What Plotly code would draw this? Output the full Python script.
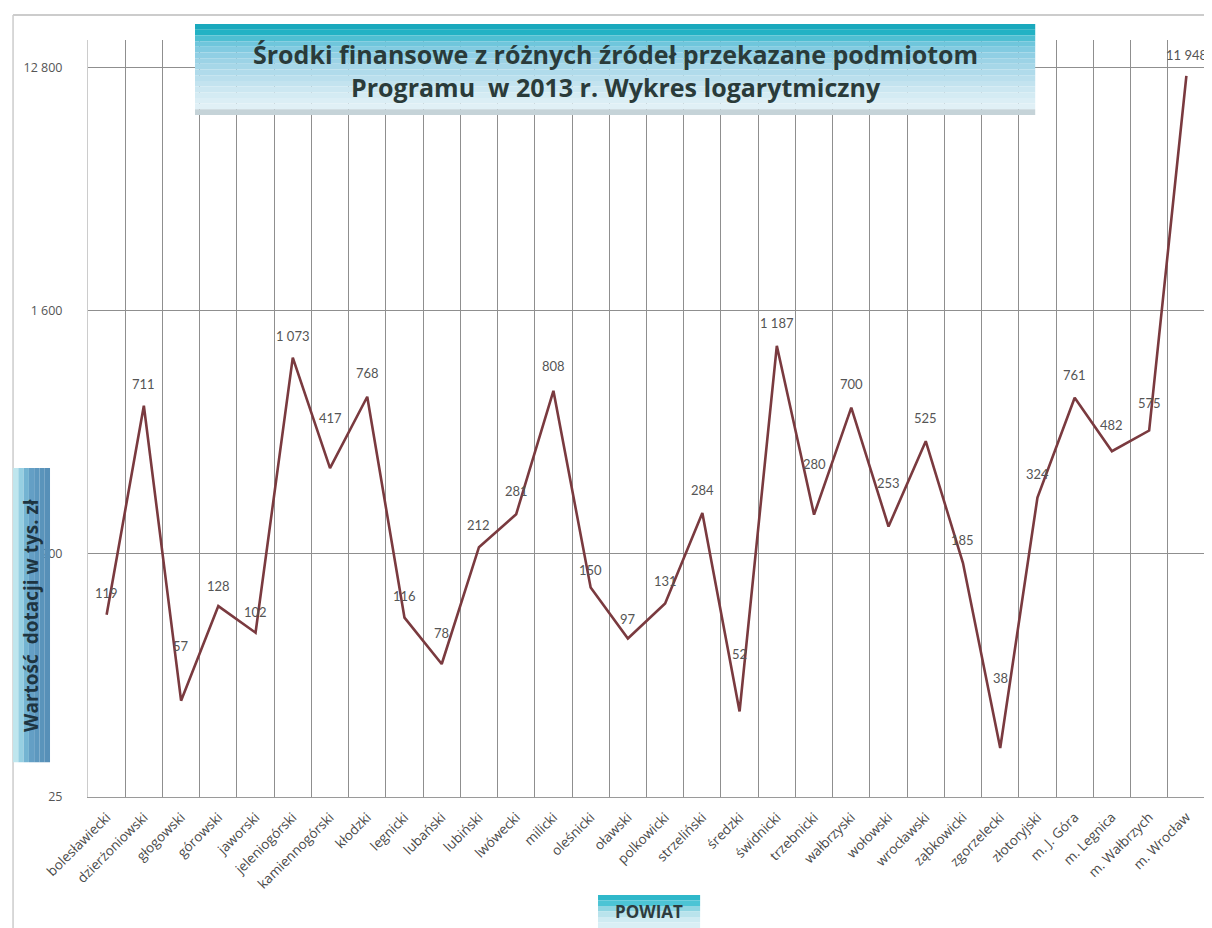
import math
import plotly.graph_objects as go

categories = ["bolesławiecki", "dzierżoniowski", "głogowski", "górowski", "jaworski",
              "jeleniogórski", "kamiennogórski", "kłodzki", "legnicki", "lubański",
              "lubiński", "lwówecki", "milicki", "oleśnicki", "oławski",
              "polkowicki", "strzeliński", "średzki", "świdnicki", "trzebnicki",
              "wałbrzyski", "wołowski", "wrocławski", "ząbkowicki", "zgorzelecki",
              "złotoryjski", "m. J. Góra", "m. Legnica", "m. Wałbrzych", "m. Wrocław"]
values = [119, 711, 57, 128, 102, 1073, 417, 768, 116, 78,
          212, 281, 808, 150, 97, 131, 284, 52, 1187, 280,
          700, 253, 525, 185, 38, 324, 761, 482, 575, 11948]
y_tickvals = [25, 200, 1600, 12800]
y_ticktext = ["25", "200", "1 600", "12 800"]

# label placement (pixels above each point), styling only
label_yshift = [22, 22, 55, 20, 21, 22, 50, 24, 22, 31,
                22, 23, 25, 18, 20, 22, 23, 57, 23, 51,
                24, 44, 23, 23, 70, 24, 23, 26, 28, 21]


def fmt(v):
    return f"{v:,}".replace(",", " ")


fig = go.Figure()
fig.add_trace(go.Scatter(
    x=categories, y=values, mode="lines",
    line=dict(color="#7a3a3f", width=2.6),
    hoverinfo="x+y", showlegend=False,
))

for c, v, dy in zip(categories, values, label_yshift):
    fig.add_annotation(x=c, y=math.log10(v), text=fmt(v), showarrow=False,
                       yshift=dy, xanchor="center", yanchor="middle",
                       font=dict(family="Lato", size=13, color="#555555"))

fig.update_layout(
    width=1204, height=920,
    margin=dict(l=80, r=7, t=32, b=131),
    paper_bgcolor="white", plot_bgcolor="white",
    template="none",
    font=dict(family="Open Sans", color="#444444"),
)
fig.update_xaxes(
    type="category", tickson="boundaries", tickangle=-45,
    range=[-0.5, len(categories) - 0.5],
    showgrid=True, gridcolor="#8f8f8f", gridwidth=1,
    showline=True, linecolor="#9a9a9a", linewidth=1,
    ticks="", ticklabelstandoff=6,
    tickfont=dict(family="Open Sans", size=13.5, color="#4a4a4a"),
    automargin=False, zeroline=False,
)
fig.update_yaxes(
    type="log", range=[1.3979, 4.211],
    tickvals=y_tickvals, ticktext=y_ticktext,
    showgrid=True, gridcolor="#8f8f8f", gridwidth=1,
    showline=True, linecolor="#cccccc", linewidth=1,
    ticks="", ticklabelstandoff=22,
    tickfont=dict(family="Open Sans", size=12.5, color="#555555"),
    automargin=False, zeroline=False,
)

shapes = []
# outer frame
shapes.append(dict(type="line", xref="paper", yref="paper", x0=-0.0671, x1=1.01, y0=1.033, y1=1.033,
                   line=dict(color="#bbbbbb", width=1.5)))
shapes.append(dict(type="line", xref="paper", yref="paper", x0=-0.0671, x1=-0.0671, y0=-0.2, y1=1.033,
                   line=dict(color="#cccccc", width=1.5)))


def gradient_box(x0, x1, y0, y1, colors, vertical=True):
    n = len(colors)
    out = []
    for i, c in enumerate(colors):
        if vertical:
            a = y1 - (y1 - y0) * i / n
            b = y1 - (y1 - y0) * (i + 1) / n
            out.append(dict(type="rect", xref="paper", yref="paper", x0=x0, x1=x1, y0=b, y1=a,
                            fillcolor=c, line=dict(width=0), layer="above"))
        else:
            a = x0 + (x1 - x0) * i / n
            b = x0 + (x1 - x0) * (i + 1) / n
            out.append(dict(type="rect", xref="paper", yref="paper", x0=a, x1=b, y0=y0, y1=y1,
                            fillcolor=c, line=dict(width=0), layer="above"))
    return out


title_cols = ["#1aa9bd", "#22b2c4", "#4fbfd2", "#6fc6dc", "#82cbe1", "#90cfe4",
              "#9cd3e6", "#a6d7e8", "#b0dbeb", "#badfed", "#c3e3ef", "#cce7f1",
              "#d4ebf3", "#dbeef5", "#e0f0f6", "#c5d3d8"]
shapes += gradient_box(0.0958, 0.848, 0.901, 1.021, title_cols)
ycols = ["#bfe6ee", "#96cfe2", "#74b4d2", "#649fc5", "#5d98bf", "#5a94bb", "#5790b8"]
shapes += gradient_box(-0.0671, -0.034, 0.046, 0.4346, ycols, vertical=False)
xcols = ["#2fb8ca", "#4cc4d5", "#8fd5e2", "#b9e3ec", "#cfebf2", "#d9eff5"]
shapes += gradient_box(0.4566, 0.548, -0.173, -0.1295, xcols)
fig.update_layout(shapes=shapes)

fig.add_annotation(xref="paper", yref="paper", x=0.4725, y=0.960,
                   text="<b>Środki finansowe z różnych źródeł przekazane podmiotom<br>Programu  w 2013 r. Wykres logarytmiczny</b>",
                   showarrow=False, font=dict(family="Open Sans", size=25, color="#2a3b3a"),
                   align="center", xanchor="center", yanchor="middle")
fig.add_annotation(xref="paper", yref="paper", x=-0.0505, y=0.240,
                   text="<b>Wartość  dotacji w tys. zł</b>", textangle=-90,
                   showarrow=False, font=dict(family="Open Sans", size=19, color="#1e3440"),
                   xanchor="center", yanchor="middle")
fig.add_annotation(xref="paper", yref="paper", x=0.502, y=-0.151,
                   text="<b>POWIAT</b>", showarrow=False,
                   font=dict(family="Open Sans", size=17, color="#2e3b3e"),
                   xanchor="center", yanchor="middle")

fig.write_html("out.html")
